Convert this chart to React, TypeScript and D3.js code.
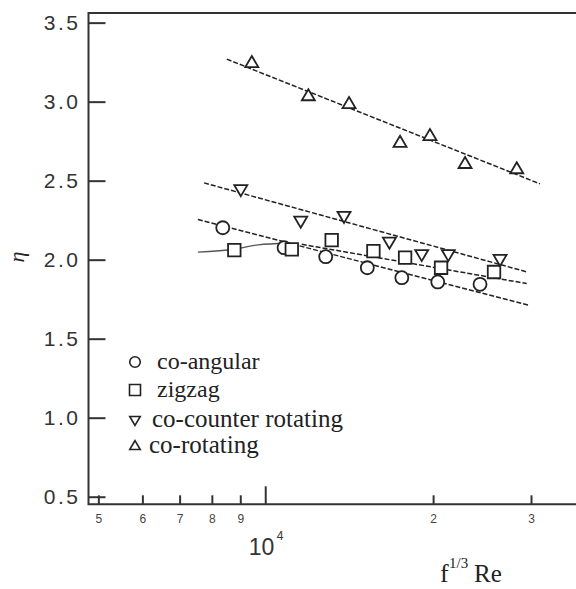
import React, { useEffect, useRef } from 'react';
import * as d3 from 'd3';

// f^(1/3)Re vs eta
const coAngular = [[8370, 2.202], [10790, 2.076], [12820, 2.019], [15230, 1.949], [17570, 1.886], [20390, 1.859], [24290, 1.844]];
const zigzag = [[8780, 2.061], [11140, 2.065], [13140, 2.124], [15620, 2.054], [17810, 2.013], [20670, 1.949], [25740, 1.922]];
const coCounter = [[9020, 2.444], [11560, 2.244], [13830, 2.275], [16690, 2.111], [19080, 2.033], [21300, 2.033], [26390, 2.002]];
const coRotating = [[9440, 3.247], [11930, 3.037], [14120, 2.987], [17440, 2.742], [19740, 2.785], [22830, 2.608], [28280, 2.575]];

// fitted lines
const coAngularFit = [[7550, 2.254], [29790, 1.711]];
const zigzagFitLow = [[7550, 2.048], [8780, 2.066], [9700, 2.094], [10900, 2.104]];
const zigzagFitHigh = [[11610, 2.097], [29470, 1.849]];
const coCounterFit = [[7745, 2.486], [29540, 1.922]];
const coRotatingFit = [[8510, 3.269], [31130, 2.48]];

const yTicks = [0.5, 1.0, 1.5, 2.0, 2.5, 3.0, 3.5];
const xMinorTicks = [5000, 6000, 7000, 8000, 9000, 20000, 30000];
const xMajorTick = 10000;

const legendItems = [
  { label: 'co-angular', shape: 'circle', size: 24 },
  { label: 'zigzag', shape: 'square', size: 24 },
  { label: 'co-counter rotating', shape: 'down', size: 25 },
  { label: 'co-rotating', shape: 'up', size: 25 },
];

const W = 576;
const H = 589;
const ink = '#222';
const sans = '"Liberation Sans", Arial, sans-serif';
const serif = '"Liberation Serif", "Times New Roman", serif';

const shapePath = (shape: string, s: number) => {
  if (shape === 'circle') return d3.symbol(d3.symbolCircle, Math.PI * (s / 2) * (s / 2))();
  if (shape === 'square') return `M${-s / 2},${-s / 2}h${s}v${s}h${-s}Z`;
  const w = s, h = s * 0.85;
  if (shape === 'up') return `M0,${-h * 0.6}L${w / 2},${h * 0.4}L${-w / 2},${h * 0.4}Z`;
  return `M0,${h * 0.6}L${w / 2},${-h * 0.4}L${-w / 2},${-h * 0.4}Z`;
};

const App = () => {
  const svgRef = useRef(null);

  useEffect(() => {
    const svg = d3.select(svgRef.current);
    svg.selectAll('*').remove();

    const left = 88.5, top = 13, bottom = 504.3;
    const x = d3.scaleLog().domain([4800, 37000]).range([left, left + 556 * Math.log10(37000 / 4800)]);
    const y = d3.scaleLinear().domain([0.452, 3.561]).range([bottom, top]);

    // frame
    svg.append('path')
      .attr('d', `M${W},${top}H${left}V${bottom}H${W}`)
      .attr('fill', 'none').attr('stroke', '#333').attr('stroke-width', 2);

    // y axis
    const gy = svg.append('g').attr('transform', `translate(${left},0)`)
      .call(d3.axisLeft(y).tickValues(yTicks).tickFormat(d3.format('.1f')).tickSizeInner(-17).tickSizeOuter(0).tickPadding(8));
    gy.select('.domain').remove();
    gy.selectAll('line').attr('stroke', '#333').attr('stroke-width', 2);
    gy.selectAll('text').attr('font-family', sans).attr('font-size', 21)
      .attr('letter-spacing', 2.5).attr('fill', '#333');

    // x axis minor ticks
    const gx = svg.append('g').attr('transform', `translate(0,${bottom})`)
      .call(d3.axisBottom(x).tickValues(xMinorTicks)
        .tickFormat((d: number) => String(d < 10000 ? d / 1000 : d / 10000))
        .tickSizeInner(-9).tickSizeOuter(0).tickPadding(10));
    gx.select('.domain').remove();
    gx.selectAll('line').attr('stroke', '#333').attr('stroke-width', 2);
    gx.selectAll('text').attr('font-family', sans).attr('font-size', 12).attr('fill', '#444');

    // major tick at 10^4
    svg.append('line')
      .attr('x1', x(xMajorTick)).attr('x2', x(xMajorTick))
      .attr('y1', bottom).attr('y2', bottom - 18)
      .attr('stroke', '#333').attr('stroke-width', 2);

    const t10 = svg.append('text')
      .attr('x', x(xMajorTick) - 17).attr('y', 555)
      .attr('font-family', sans).attr('font-size', 23).attr('fill', '#333');
    t10.append('tspan').text('10');
    t10.append('tspan').attr('x', x(xMajorTick) + 11).attr('y', 540).attr('font-size', 12).text('4');

    // x axis title
    const tx = svg.append('text').attr('y', 582)
      .attr('font-family', serif).attr('fill', ink);
    tx.append('tspan').attr('x', 440).attr('font-size', 26).text('f');
    tx.append('tspan').attr('x', 449).attr('y', 568).attr('font-size', 15).text('1/3');
    tx.append('tspan').attr('x', 474).attr('y', 582).attr('font-size', 25).text('Re');

    // y axis title
    svg.append('text')
      .attr('transform', 'translate(24,257) rotate(-90)')
      .attr('text-anchor', 'middle')
      .attr('font-family', serif).attr('font-style', 'italic')
      .attr('font-size', 22).attr('fill', ink).text('η');

    // fit lines
    const line = d3.line().x((d: number[]) => x(d[0])).y((d: number[]) => y(d[1]));
    const curve = d3.line().curve(d3.curveMonotoneX).x((d: number[]) => x(d[0])).y((d: number[]) => y(d[1]));
    [coAngularFit, zigzagFitHigh, coCounterFit, coRotatingFit].forEach(f => {
      svg.append('path').attr('d', line(f)).attr('fill', 'none')
        .attr('stroke', ink).attr('stroke-width', 1.5).attr('stroke-dasharray', '5,2');
    });
    svg.append('path').attr('d', curve(zigzagFitLow)).attr('fill', 'none')
      .attr('stroke', '#555').attr('stroke-width', 1.3);

    // markers
    const series = [
      { data: coAngular, shape: 'circle', size: 13 },
      { data: zigzag, shape: 'square', size: 12.5 },
      { data: coCounter, shape: 'down', size: 13 },
      { data: coRotating, shape: 'up', size: 13 },
    ];
    series.forEach(s => {
      svg.append('g').selectAll('path').data(s.data).join('path')
        .attr('transform', (d: number[]) => `translate(${x(d[0])},${y(d[1])})`)
        .attr('d', shapePath(s.shape, s.size))
        .attr('fill', 'white').attr('stroke', ink).attr('stroke-width', 1.8);
    });

    // legend
    const legendY = [362, 390, 420, 446];
    const textX = [157, 157, 152, 149];
    legendItems.forEach((it, i) => {
      svg.append('path')
        .attr('transform', `translate(135,${legendY[i]})`)
        .attr('d', shapePath(it.shape, it.shape === 'square' ? 11 : 10.5))
        .attr('fill', 'white').attr('stroke', ink).attr('stroke-width', 1.6);
      svg.append('text')
        .attr('x', textX[i]).attr('y', legendY[i] + 7)
        .attr('font-family', serif)
        .attr('font-size', it.size).attr('fill', ink).text(it.label);
    });
  }, []);

  return (
    <svg ref={svgRef} width={W} height={H} style={{ position: 'absolute', left: 0, top: 0, background: 'white' }} />
  );
};

export default App;
